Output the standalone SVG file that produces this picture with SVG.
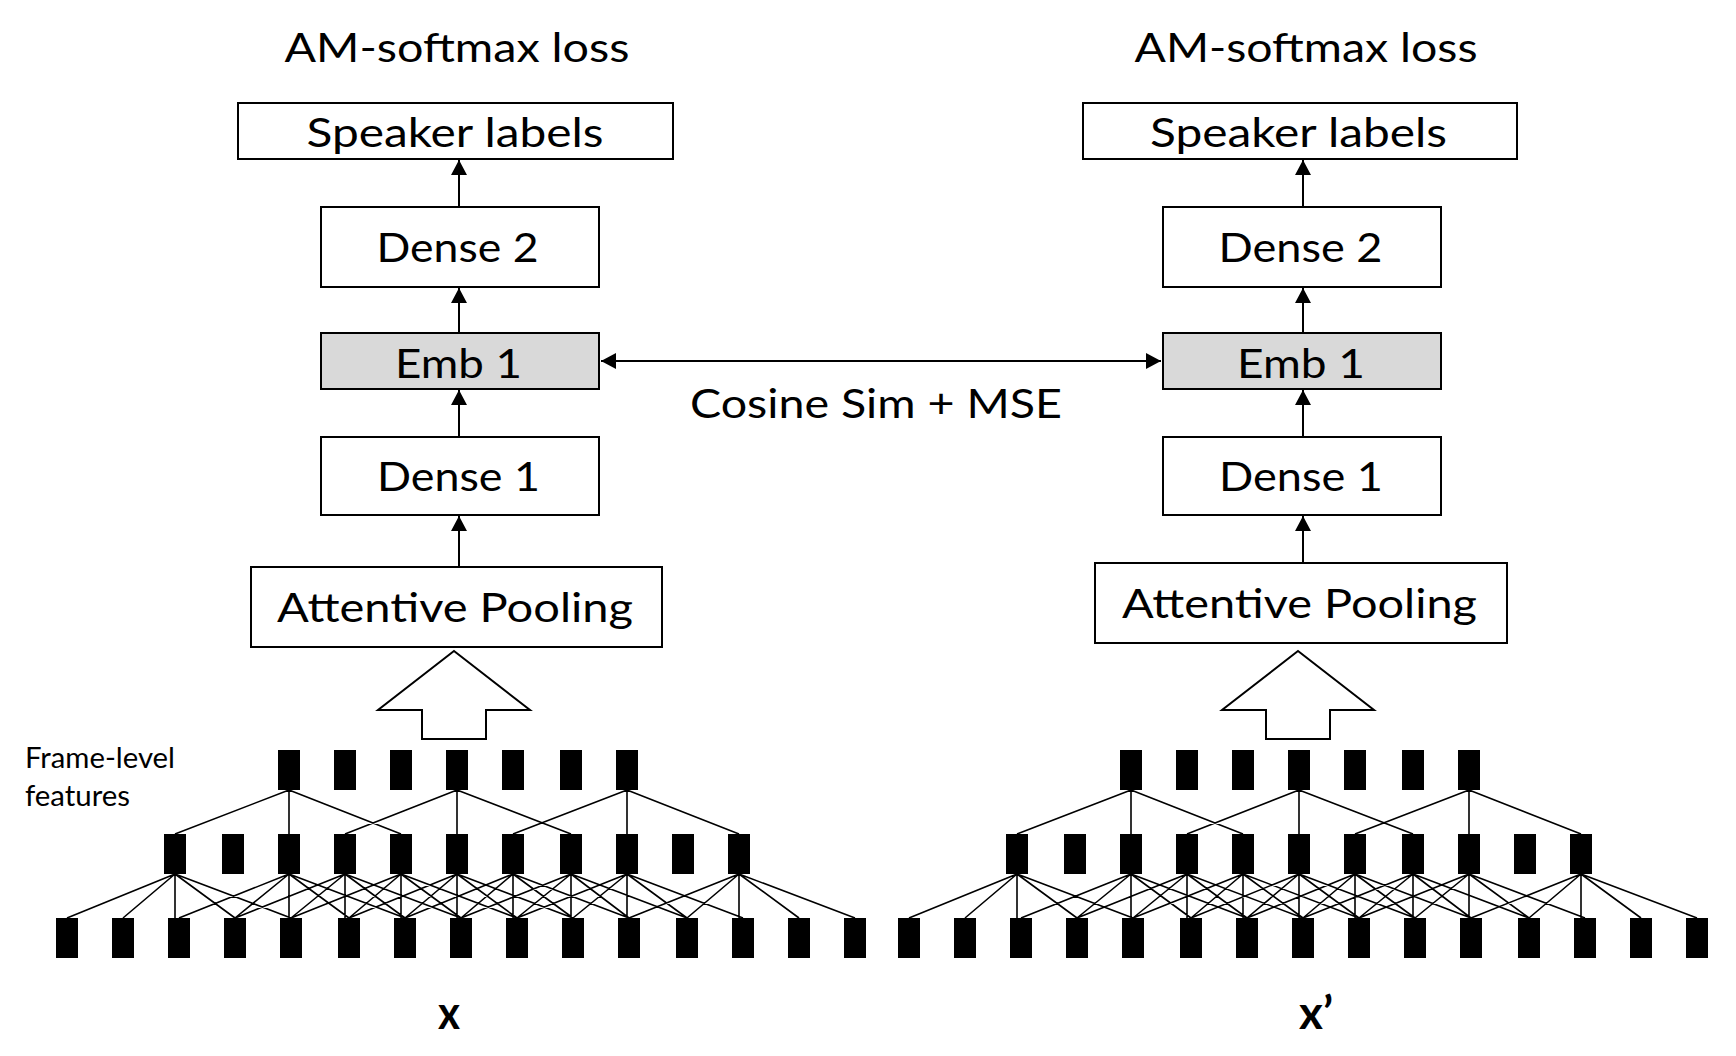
<svg xmlns="http://www.w3.org/2000/svg" xmlns:xlink="http://www.w3.org/1999/xlink" width="1736" height="1056" viewBox="0 0 1736 1056">
<style>
.box{fill:#fff;stroke:#000;stroke-width:2}
.emb{fill:#d9d9d9;stroke:#000;stroke-width:2}
.lbl{font-family:Lato,"Open Sans","Liberation Sans",sans-serif;font-size:40px;fill:#000;text-anchor:middle}
.small{font-family:Lato,"Open Sans","Liberation Sans",sans-serif;font-size:28px;fill:#000}
.var{font-family:Lato,"Liberation Sans",sans-serif;font-size:46px;font-weight:bold;fill:#000}
.arr{stroke:#000;stroke-width:2;fill:none}
.fr{fill:#000}
.ln{stroke:#000;stroke-width:1.6;fill:none}
.hollow{fill:#fff;stroke:#000;stroke-width:2;stroke-linejoin:miter}
</style>
<defs>
<marker id="ah" viewBox="0 0 15 16" refX="15" refY="8" markerWidth="15" markerHeight="16" markerUnits="userSpaceOnUse" orient="auto-start-reverse">
<path d="M0,0 L15,8 L0,16 z" fill="#000"/>
</marker>
<g id="net">
<g class="fr">
<rect x="278" y="750" width="22" height="40"/><rect x="334" y="750" width="22" height="40"/><rect x="390" y="750" width="22" height="40"/><rect x="446" y="750" width="22" height="40"/><rect x="502" y="750" width="22" height="40"/><rect x="560" y="750" width="22" height="40"/><rect x="616" y="750" width="22" height="40"/>
<rect x="164" y="834" width="22" height="40"/><rect x="222" y="834" width="22" height="40"/><rect x="278" y="834" width="22" height="40"/><rect x="334" y="834" width="22" height="40"/><rect x="390" y="834" width="22" height="40"/><rect x="446" y="834" width="22" height="40"/><rect x="502" y="834" width="22" height="40"/><rect x="560" y="834" width="22" height="40"/><rect x="616" y="834" width="22" height="40"/><rect x="672" y="834" width="22" height="40"/><rect x="728" y="834" width="22" height="40"/>
<rect x="56" y="918" width="22" height="40"/><rect x="112" y="918" width="22" height="40"/><rect x="168" y="918" width="22" height="40"/><rect x="224" y="918" width="22" height="40"/><rect x="280" y="918" width="22" height="40"/><rect x="338" y="918" width="22" height="40"/><rect x="394" y="918" width="22" height="40"/><rect x="450" y="918" width="22" height="40"/><rect x="506" y="918" width="22" height="40"/><rect x="562" y="918" width="22" height="40"/><rect x="618" y="918" width="22" height="40"/><rect x="676" y="918" width="22" height="40"/><rect x="732" y="918" width="22" height="40"/><rect x="788" y="918" width="22" height="40"/><rect x="844" y="918" width="22" height="40"/>
</g>
<path class="ln" d="M289,790L175,834M289,790L289,834M289,790L401,834M457,790L345,834M457,790L457,834M457,790L571,834M627,790L513,834M627,790L627,834M627,790L739,834
M175,874L67,918M175,874L123,918M175,874L175,918M175,874L235,918M175,874L291,918
M289,874L179,918M289,874L235,918M289,874L289,918M289,874L349,918M289,874L405,918
M345,874L235,918M345,874L291,918M345,874L345,918M345,874L405,918M345,874L461,918
M401,874L291,918M401,874L349,918M401,874L401,918M401,874L461,918M401,874L517,918
M457,874L349,918M457,874L405,918M457,874L457,918M457,874L517,918M457,874L573,918
M513,874L405,918M513,874L461,918M513,874L513,918M513,874L573,918M513,874L629,918
M571,874L461,918M571,874L517,918M571,874L571,918M571,874L629,918M571,874L687,918
M627,874L517,918M627,874L573,918M627,874L627,918M627,874L687,918M627,874L743,918
M739,874L629,918M739,874L687,918M739,874L739,918M739,874L799,918M739,874L855,918"/>
</g>
</defs>

<text class="lbl" x="457" y="62" textLength="345" lengthAdjust="spacingAndGlyphs">AM-softmax loss</text>
<text class="lbl" x="1306" y="62" textLength="343" lengthAdjust="spacingAndGlyphs">AM-softmax loss</text>

<g id="speaker-labels-left"><rect class="box" x="238" y="103" width="435" height="56"/><text class="lbl" x="455" y="147" textLength="297" lengthAdjust="spacingAndGlyphs">Speaker labels</text></g>
<g id="dense2-left"><rect class="box" x="321" y="207" width="278" height="80"/><text class="lbl" x="457.5" y="262" textLength="162" lengthAdjust="spacingAndGlyphs">Dense 2</text></g>
<g id="emb1-left"><rect class="emb" x="321" y="333" width="278" height="56"/><text class="lbl" x="458.5" y="378" textLength="127" lengthAdjust="spacingAndGlyphs">Emb 1</text></g>
<g id="dense1-left"><rect class="box" x="321" y="437" width="278" height="78"/><text class="lbl" x="458.5" y="491" textLength="163" lengthAdjust="spacingAndGlyphs">Dense 1</text></g>
<g id="attpool-left"><rect class="box" x="251" y="567" width="411" height="80"/><text class="lbl" x="455" y="622" textLength="356" lengthAdjust="spacingAndGlyphs">Attentive Pooling</text></g>

<g id="speaker-labels-right"><rect class="box" x="1083" y="103" width="434" height="56"/><text class="lbl" x="1298.5" y="147" textLength="297" lengthAdjust="spacingAndGlyphs">Speaker labels</text></g>
<g id="dense2-right"><rect class="box" x="1163" y="207" width="278" height="80"/><text class="lbl" x="1300.5" y="262" textLength="164" lengthAdjust="spacingAndGlyphs">Dense 2</text></g>
<g id="emb1-right"><rect class="emb" x="1163" y="333" width="278" height="56"/><text class="lbl" x="1301" y="378" textLength="128" lengthAdjust="spacingAndGlyphs">Emb 1</text></g>
<g id="dense1-right"><rect class="box" x="1163" y="437" width="278" height="78"/><text class="lbl" x="1301" y="491" textLength="164" lengthAdjust="spacingAndGlyphs">Dense 1</text></g>
<g id="attpool-right"><rect class="box" x="1095" y="563" width="412" height="80"/><text class="lbl" x="1299.5" y="618" textLength="355" lengthAdjust="spacingAndGlyphs">Attentive Pooling</text></g>

<g id="connectors">
<line class="arr" x1="459" y1="207" x2="459" y2="160" marker-end="url(#ah)"/>
<line class="arr" x1="459" y1="333" x2="459" y2="288" marker-end="url(#ah)"/>
<line class="arr" x1="459" y1="437" x2="459" y2="390" marker-end="url(#ah)"/>
<line class="arr" x1="459" y1="566" x2="459" y2="516" marker-end="url(#ah)"/>
<line class="arr" x1="1303" y1="207" x2="1303" y2="160" marker-end="url(#ah)"/>
<line class="arr" x1="1303" y1="333" x2="1303" y2="288" marker-end="url(#ah)"/>
<line class="arr" x1="1303" y1="437" x2="1303" y2="390" marker-end="url(#ah)"/>
<line class="arr" x1="1303" y1="563" x2="1303" y2="516" marker-end="url(#ah)"/>
<line class="arr" x1="601" y1="361" x2="1161" y2="361" marker-start="url(#ah)" marker-end="url(#ah)"/>
<polygon class="hollow" points="454,651 530,710 486,710 486,739 422,739 422,710 378,710"/>
<polygon class="hollow" points="1298,651 1374,710 1330,710 1330,739 1266,739 1266,710 1222,710"/>
</g>

<text class="lbl" x="876" y="418" textLength="372" lengthAdjust="spacingAndGlyphs">Cosine Sim + MSE</text>

<g id="frames-left"><use xlink:href="#net" href="#net"/></g>
<g id="frames-right" transform="translate(842,0)"><use xlink:href="#net" href="#net"/></g>

<text class="small" x="25" y="768" textLength="150" lengthAdjust="spacingAndGlyphs">Frame-level</text>
<text class="small" x="25" y="806" textLength="105" lengthAdjust="spacingAndGlyphs">features</text>

<text class="var" x="438" y="1029" textLength="22" lengthAdjust="spacingAndGlyphs">x</text>
<text class="var" x="1299" y="1029" textLength="34" lengthAdjust="spacingAndGlyphs">x’</text>
</svg>
